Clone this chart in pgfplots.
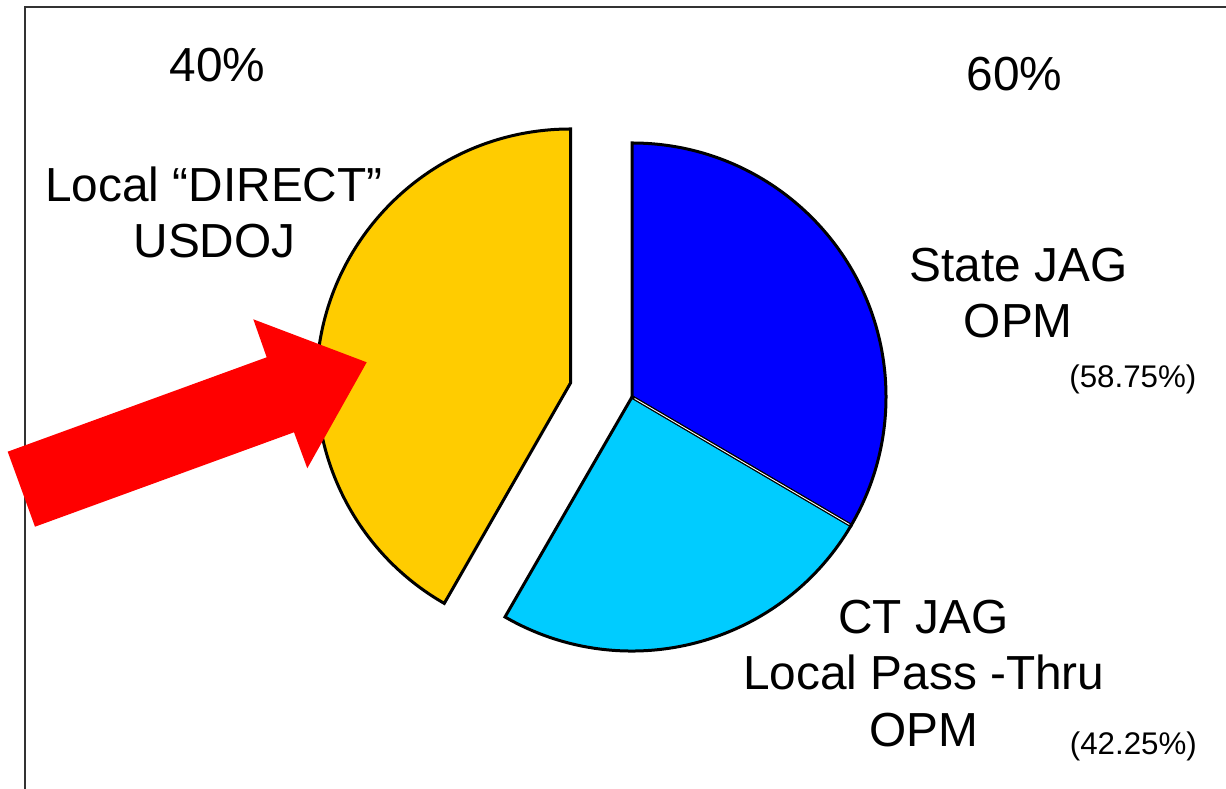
\documentclass[border=0pt]{standalone}
\usepackage{pgfplots}
\pgfplotsset{compat=1.18}
\usepackage{fontspec}
\setmainfont{Liberation Sans}
\definecolor{pieyellow}{HTML}{FFCC00}
\definecolor{pieblue}{HTML}{0000FF}
\definecolor{piecyan}{HTML}{00CCFF}
\definecolor{framegray}{HTML}{333333}
\begin{document}
\begin{tikzpicture}
\begin{axis}[hide axis, scale only axis, width=1226pt, height=789pt,
  xmin=0, xmax=1226, ymin=0, ymax=789, clip=false]
% frame
\draw[framegray, line width=2pt] (axis cs:25,0) -- (axis cs:25,782) -- (axis cs:1226,782);
% slices: Local DIRECT (exploded), State JAG, CT JAG
\filldraw[fill=pieyellow, draw=black, line width=3pt, line join=miter]
  (axis cs:570.5,406) -- ++(90:254pt) arc[start angle=90, end angle=240.2, radius=254pt] -- cycle;
\filldraw[fill=pieblue, draw=black, line width=3pt, line join=miter]
  (axis cs:632,392) -- ++(90:254pt) arc[start angle=90, end angle=-30.4, radius=254pt] -- cycle;
\filldraw[fill=piecyan, draw=black, line width=3pt, line join=miter]
  (axis cs:632,392) -- ++(-30.4:254pt) arc[start angle=-30.4, end angle=-120, radius=254pt] -- cycle;
\draw[black, line width=3.4pt] (axis cs:632,392) -- ++(-30.4:254pt);
\draw[white, line width=0.9pt] (axis cs:632,392) ++(-30.4:3pt) -- ++(-30.4:249pt);
% arrow
\fill[red] (axis cs:7.7,337.3) -- (axis cs:266.7,431.7) -- (axis cs:253.3,469.7)
  -- (axis cs:366.7,426.7) -- (axis cs:307.3,320.7) -- (axis cs:294,356.7)
  -- (axis cs:35,262.3) -- cycle;
% labels
\begin{scope}[every node/.style={anchor=base, inner sep=0pt, font=\fontsize{47.8}{56}\selectfont}]
\node at (axis cs:217.5,707.3) {40\%};
\node at (axis cs:1014.5,698.3) {60\%};
\node at (axis cs:214,587.3) {Local “DIRECT”};
\node at (axis cs:214.5,531.7) {USDOJ};
\node at (axis cs:1018.3,507.3) {State JAG};
\node at (axis cs:1018.3,451.3) {OPM};
\node at (axis cs:923.3,155.7) {CT JAG};
\node at (axis cs:923.8,99) {Local Pass -Thru};
\node at (axis cs:924.2,42.3) {OPM};
\end{scope}
\begin{scope}[every node/.style={anchor=base, inner sep=0pt, font=\fontsize{31.3}{36}\selectfont}]
\node at (axis cs:1132.9,401.7) {(58.75\%)};
\node at (axis cs:1133.4,34) {(42.25\%)};
\end{scope}
\end{axis}
\pgfresetboundingbox
\useasboundingbox (current axis.south west) rectangle (current axis.north east);
\end{tikzpicture}
\end{document}
